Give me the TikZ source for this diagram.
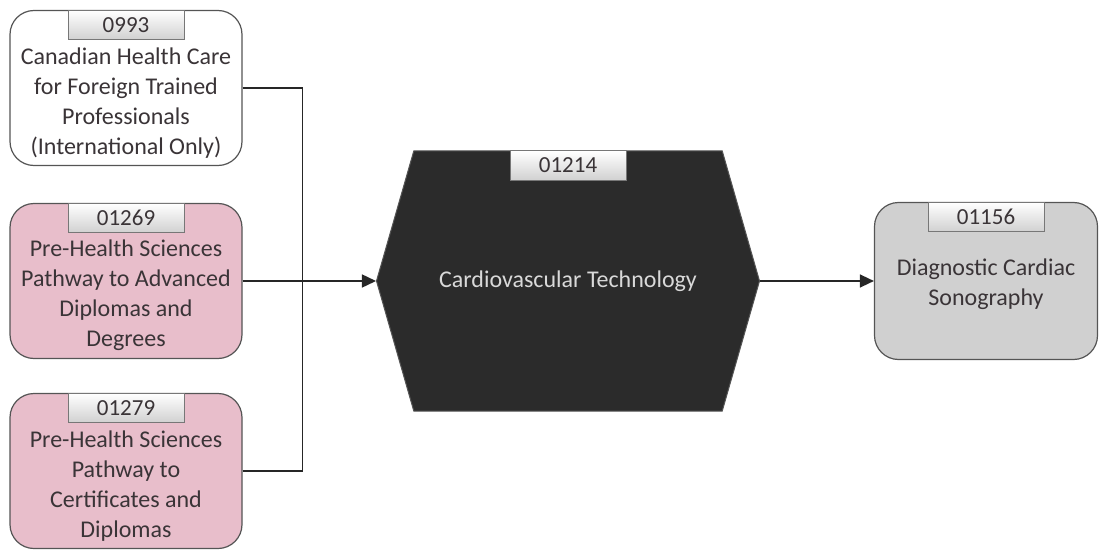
\documentclass[tikz,border=0pt]{standalone}
\usepackage{fontspec}
\setmainfont{Carlito}
\usepackage{tikz}
\usetikzlibrary{arrows.meta, calc, positioning, shapes.symbols}

\definecolor{pinkfill}{RGB}{232,190,203}
\definecolor{greyfill}{RGB}{208,208,208}
\definecolor{hexfill}{RGB}{43,43,43}
\definecolor{edgegrey}{RGB}{85,85,85}
\definecolor{txtgrey}{RGB}{58,52,55}

\tikzset{
	prog/.style={draw=edgegrey, line width=1.2pt, rounded corners=24pt, minimum width=232pt, minimum height=155pt, inner sep=0pt},
	progtext/.style={align=center, text=txtgrey, font=\fontsize{24}{30}\selectfont, inner sep=0pt},
	tab/.style={draw=edgegrey!80, line width=0.8pt, top color=white, bottom color=black!18, minimum width=116pt, minimum height=29pt, inner sep=0pt, anchor=north, text=txtgrey, font=\fontsize{23}{24}\selectfont},
	link/.style={line width=1.5pt, black!85},
	arr/.style={link, -{Triangle[length=14pt,width=13pt]}}
}

\begin{document}
\begin{tikzpicture}[x=1pt,y=1pt]
		\useasboundingbox (0,0) rectangle (1100,550);
		% feeder programs
		\node[prog, fill=white] (cchc) at (126,462) {};
		\node[prog, fill=pinkfill] (phadv) at (126,269) {};
		\node[prog, fill=pinkfill] (phcert) at (126,79) {};
		\node[tab] (cchc-id) at (cchc.north) {0993};
		\node[tab] (phadv-id) at (phadv.north) {01269};
		\node[tab] (phcert-id) at (phcert.north) {01279};
		\node[progtext] (cchc-txt) at ($(cchc.center)+(0,-15)$) {Canadian Health Care\\for Foreign Trained\\Professionals\\(International Only)};
		\node[progtext] (phadv-txt) at ($(phadv.center)+(0,-14)$) {Pre-Health Sciences\\Pathway to Advanced\\Diplomas and\\Degrees};
		\node[progtext] (phcert-txt) at ($(phcert.center)+(0,-15)$) {Pre-Health Sciences\\Pathway to\\Certificates and\\Diplomas};
		% main program
		\node[signal, signal to=west and east, signal pointer angle=148, draw=edgegrey, fill=hexfill, line width=1pt, minimum width=383pt, minimum height=260pt, inner sep=0pt] (cvt) at (568,269) {};
		\node[tab] (cvt-id) at (cvt.north) {01214};
		\node[progtext, text=black!15] (cvt-txt) at (cvt.center) {Cardiovascular Technology};
		% next program
		\node[prog, fill=greyfill, minimum width=223pt, minimum height=157pt] (dcs) at (986,269) {};
		\node[tab] (dcs-id) at (dcs.north) {01156};
		\node[progtext] (dcs-txt) at ($(dcs.center)+(0,-3)$) {Diagnostic Cardiac\\Sonography};
		% connectors
		\coordinate (join) at ($(phadv.east)+(60,0)$);
		\draw[link] (cchc.east) -| (join);
		\draw[link] (phcert.east) -| (join);
		\draw[arr] (phadv.east) -- (cvt.west);
		\draw[arr] (cvt.east) -- (dcs.west);
	\end{tikzpicture}
\end{document}
